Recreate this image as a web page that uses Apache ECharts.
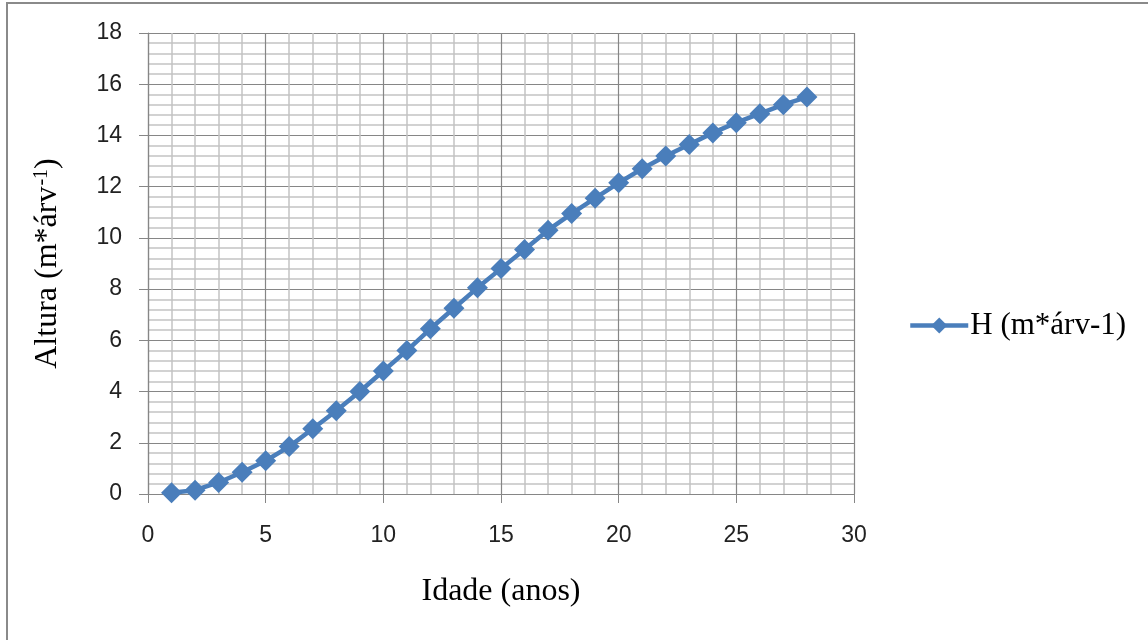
<!DOCTYPE html>
<html>
<head>
<meta charset="utf-8">
<script src="https://cdn.jsdelivr.net/npm/echarts@6/dist/echarts.min.js"></script>
<style>
  html, body { margin: 0; padding: 0; background: #fff; }
  #frame { position: absolute; left: 6px; top: 2px; width: 1142px; height: 638px;
           border-left: 2px solid #8a8a8a; border-top: 2px solid #8a8a8a; box-sizing: border-box; }
  #chart { position: absolute; left: 0; top: 0; width: 1148px; height: 640px; }
</style>
</head>
<body>
<div id="frame"></div>
<div id="chart"></div>
<script>
const idade = [1,2,3,4,5,6,7,8,9,10,11,12,13,14,15,16,17,18,19,20,21,22,23,24,25,26,27,28];
const altura = [0.05,0.15,0.45,0.85,1.3,1.85,2.55,3.25,4.0,4.8,5.6,6.45,7.25,8.05,8.8,9.55,10.3,10.95,11.55,12.15,12.7,13.2,13.65,14.1,14.5,14.85,15.2,15.5];
const seriesName = 'H (m*árv-1)';

const chart = echarts.init(document.getElementById('chart'), null, { renderer: 'canvas' });
const major = '#868686', minor = '#c4c4c4';
chart.setOption({
  animation: false,
  backgroundColor: 'transparent',
  grid: { left: 148, right: 294, top: 33, bottom: 146, containLabel: false },
  legend: {
    data: [seriesName], left: 903, top: 305, itemWidth: 58, itemHeight: 20, itemGap: 4,
    lineStyle: { width: 4.5, color: '#4a7ebb' },
    textStyle: { fontFamily: 'Liberation Serif', fontSize: 31, color: '#000', padding: [0, 0, 0, -3] }
  },
  xAxis: {
    type: 'value', min: 0, max: 30, interval: 5,
    name: 'Idade (anos)', nameLocation: 'middle', nameGap: 82,
    nameTextStyle: { fontFamily: 'Liberation Serif', fontSize: 32, color: '#000' },
    axisLine: { show: true, lineStyle: { color: major, width: 1.2 } },
    axisTick: { show: true, length: 9, lineStyle: { color: major } },
    axisLabel: { fontFamily: 'Liberation Sans', fontSize: 23, color: '#222', margin: 30 },
    splitLine: { show: true, lineStyle: { color: major, width: 1.2 } },
    minorTick: { show: false, splitNumber: 5 },
    minorSplitLine: { show: true, lineStyle: { color: minor, width: 1.5 } }
  },
  yAxis: {
    type: 'value', min: 0, max: 18, interval: 2,
    name: '{a|Altura (m*árv}{s|-1}{a|)}', nameLocation: 'middle', nameGap: 84, nameRotate: 90,
    nameTextStyle: {
      rich: {
        a: { fontFamily: 'Liberation Serif', fontSize: 32, color: '#000', verticalAlign: 'bottom' },
        s: { fontFamily: 'Liberation Serif', fontSize: 20, color: '#000', verticalAlign: 'top', padding: [0, 0, 0, 1] }
      }
    },
    axisLine: { show: true, lineStyle: { color: major, width: 1.2 } },
    axisTick: { show: true, length: 9, lineStyle: { color: major } },
    axisLabel: { fontFamily: 'Liberation Sans', fontSize: 23, color: '#222', margin: 26 },
    splitLine: { show: true, lineStyle: { color: major, width: 1.2 } },
    minorTick: { show: false, splitNumber: 5 },
    minorSplitLine: { show: true, lineStyle: { color: minor, width: 1.5 } }
  },
  series: [{
    name: seriesName, type: 'line',
    data: idade.map((x, i) => [x, altura[i]]),
    symbol: 'diamond', symbolSize: 21,
    lineStyle: { color: '#4a7ebb', width: 4.5 },
    itemStyle: { color: '#4a7ebb' }
  }]
});
</script>
</body>
</html>
